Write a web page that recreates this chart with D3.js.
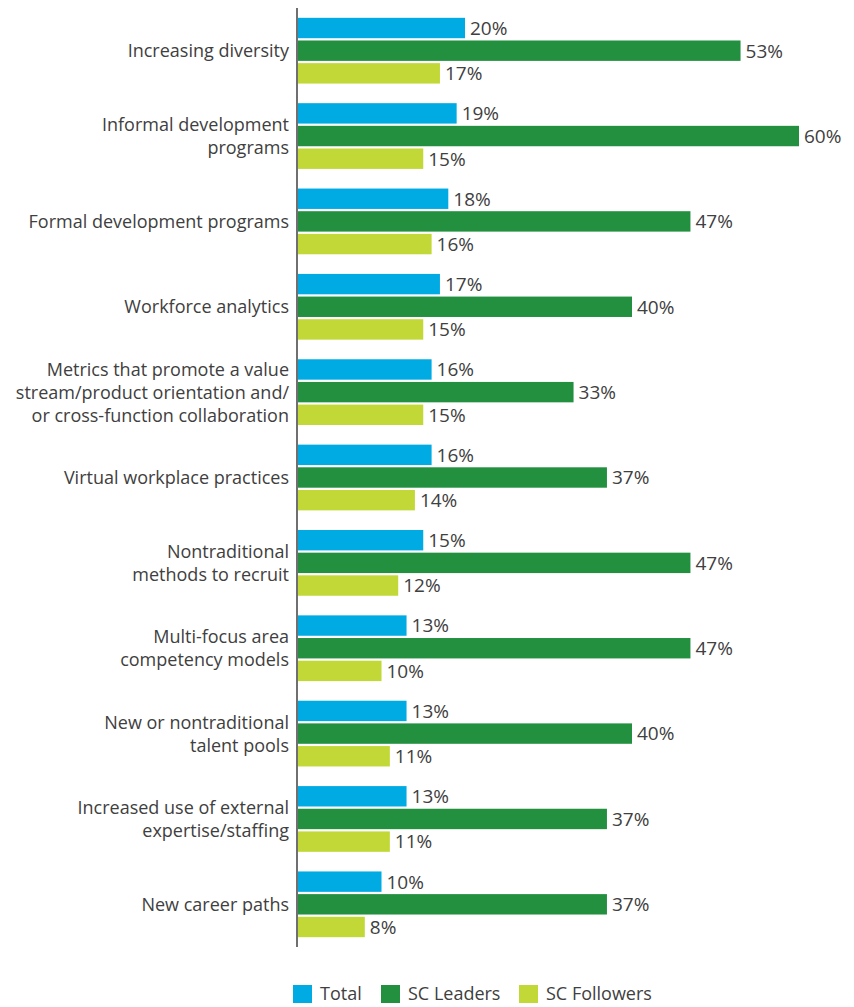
<!DOCTYPE html>
<html>
<head>
<meta charset="utf-8">
<script src="https://cdn.jsdelivr.net/npm/d3@7"></script>
<style>
  body { margin: 0; background: #fff; }
  text { font-family: "Open Sans", "Noto Sans", sans-serif; fill: #404040; }
</style>
</head>
<body>
<div id="chart"></div>
<script>
// categories, split into display lines
const categories = [
  ["Increasing diversity"],
  ["Informal development", "programs"],
  ["Formal development programs"],
  ["Workforce analytics"],
  ["Metrics that promote a value", "stream/product orientation and/", "or cross-function collaboration"],
  ["Virtual workplace practices"],
  ["Nontraditional", "methods to recruit"],
  ["Multi-focus area", "competency models"],
  ["New or nontraditional", "talent pools"],
  ["Increased use of external", "expertise/staffing"],
  ["New career paths"]
];
const seriesNames = ["Total", "SC Leaders", "SC Followers"];
const total = [20, 19, 18, 17, 16, 16, 15, 13, 13, 13, 10];
const leaders = [53, 60, 47, 40, 33, 37, 47, 47, 40, 37, 37];
const followers = [17, 15, 16, 15, 15, 14, 12, 10, 11, 11, 8];
const colors = ["#00abe4", "#22903f", "#c1d836"];

const width = 854, height = 1007;
const x0 = 298;

const svg = d3.select("#chart").append("svg")
  .attr("width", width)
  .attr("height", height);

const ids = categories.map((c, i) => i);
const seriesVals = [total, leaders, followers];

let x = d3.scaleLinear().domain([0, 60]).range([x0, 799]);
let y = d3.scaleBand().domain(ids).range([8, 947]).paddingInner(0.23).paddingOuter(0.115);
let ySub = d3.scaleBand().domain(seriesNames).range([0, y.bandwidth()]).paddingInner(0.1);

let groups = svg.append("g").selectAll("g")
  .data(ids)
  .enter().append("g")
  .attr("transform", (d) => "translate(0," + y(d) + ")");

groups.selectAll("rect")
  .data((i) => seriesNames.map((s, k) => ({ s: s, k: k, v: seriesVals[k][i] })))
  .enter().append("rect")
  .attr("x", x(0))
  .attr("y", (d) => ySub(d.s))
  .attr("width", (d) => x(d.v) - x(0))
  .attr("height", ySub.bandwidth())
  .attr("fill", (d) => colors[d.k]);

groups.selectAll("text.val")
  .data((i) => seriesNames.map((s, k) => ({ s: s, k: k, v: seriesVals[k][i] })))
  .enter().append("text")
  .attr("class", "val")
  .attr("x", (d) => x(d.v) + 5)
  .attr("y", (d) => ySub(d.s) + ySub.bandwidth() / 2)
  .attr("dy", "0.36em")
  .style("font-size", "19px")
  .text((d) => d.v + "%");

// category labels
const lineH = 23;
groups.append("text")
  .attr("text-anchor", "end")
  .style("font-size", "18px")
  .selectAll("tspan")
  .data((i) => categories[i].map((t, j, arr) => ({ t: t, j: j, n: arr.length })))
  .enter().append("tspan")
  .attr("x", 289)
  .attr("y", (d) => y.bandwidth() / 2 + (d.j - (d.n - 1) / 2) * lineH)
  .attr("dy", "0.36em")
  .text((d) => d.t);

// vertical axis line
svg.append("line")
  .attr("x1", x0 - 1).attr("x2", x0 - 1)
  .attr("y1", 8).attr("y2", 947)
  .attr("stroke", "#222")
  .attr("stroke-width", 1.3);

// legend
const legendX = [293, 381, 519];
let legend = svg.append("g").selectAll("g")
  .data(seriesNames)
  .enter().append("g")
  .attr("transform", (d, i) => "translate(" + legendX[i] + ",985)");

legend.append("rect")
  .attr("width", 19).attr("height", 18)
  .attr("fill", (d, i) => colors[i]);

legend.append("text")
  .attr("x", 27).attr("y", 9)
  .attr("dy", "0.36em")
  .style("font-size", "18px")
  .text((d) => d);
</script>
</body>
</html>
